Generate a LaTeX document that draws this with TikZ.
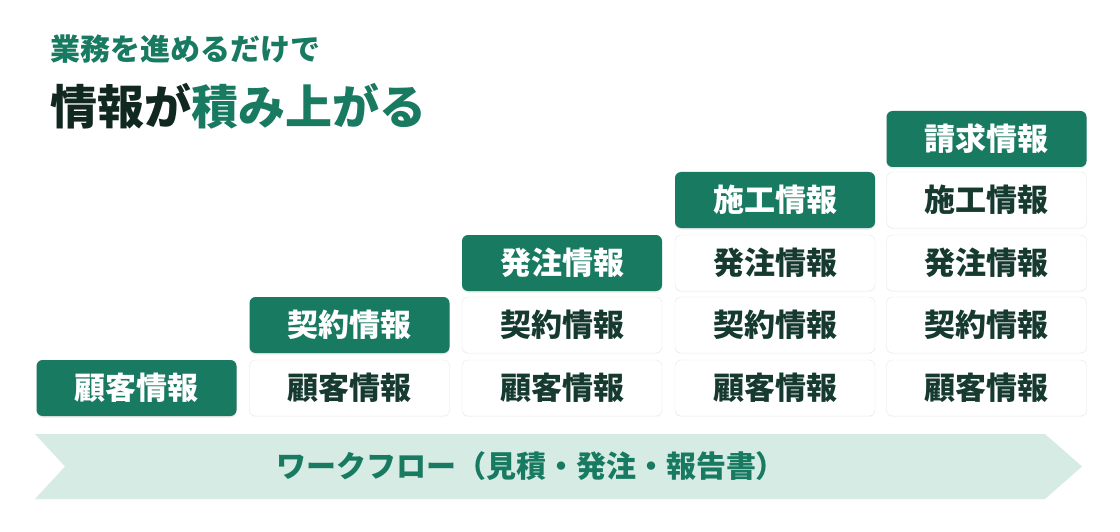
\documentclass[tikz,border=0pt]{standalone}
\usepackage{fontspec}
\setmainfont{Noto Sans CJK JP}
\definecolor{bizgreen}{RGB}{24, 122, 97}
\definecolor{titledark}{RGB}{17, 40, 32}
\definecolor{celltext}{RGB}{22, 58, 47}
\definecolor{cellline}{RGB}{226, 233, 230}
\definecolor{flowfill}{RGB}{214, 235, 227}
\usetikzlibrary{shadows}

\begin{document}
\begin{tikzpicture}[x=1pt, y=-1pt,
    newbox/.style={rounded corners=6pt, fill=bizgreen, text=white, minimum width=200pt, minimum height=56pt,
      font=\fontsize{31}{31}\selectfont\bfseries, drop shadow={opacity=0.15, shadow xshift=0pt, shadow yshift=-1.5pt}},
    oldbox/.style={rounded corners=6pt, fill=white, draw=cellline, text=celltext, minimum width=200pt, minimum height=56pt,
      font=\fontsize{31}{31}\selectfont\bfseries, drop shadow={opacity=0.05, shadow xshift=0pt, shadow yshift=-1pt}}]
  \useasboundingbox[fill=white] (0, 0) rectangle (1120, 532);

  % heading
  \node[anchor=west, inner sep=0, text=bizgreen, font=\fontsize{30}{30}\selectfont\bfseries] (lead) at (50, 49) {業務を進めるだけで};
  \node[anchor=west, inner sep=0, text=titledark, font=\fontsize{47}{47}\selectfont\bfseries] (title) at (50, 106)
    {情報が\textcolor{bizgreen}{積み上がる}};

  % stacks
  \node[newbox] (cust1) at (136.5, 388) {顧客情報};

  \node[oldbox] (cust2) at (349.5, 388) {顧客情報};
  \node[newbox] (cont2) at (349.5, 325) {契約情報};

  \node[oldbox] (cust3) at (562, 388) {顧客情報};
  \node[oldbox] (cont3) at (562, 325) {契約情報};
  \node[newbox] (order3) at (562, 263) {発注情報};

  \node[oldbox] (cust4) at (775, 388) {顧客情報};
  \node[oldbox] (cont4) at (775, 325) {契約情報};
  \node[oldbox] (order4) at (775, 263) {発注情報};
  \node[newbox] (work4) at (775, 200) {施工情報};

  \node[oldbox] (cust5) at (986.5, 388) {顧客情報};
  \node[oldbox] (cont5) at (986.5, 325) {契約情報};
  \node[oldbox] (order5) at (986.5, 263) {発注情報};
  \node[oldbox] (work5) at (986.5, 200) {施工情報};
  \node[newbox] (bill5) at (986.5, 139) {請求情報};

  % workflow band
  \fill[flowfill] (35, 434) -- (1045, 434) -- (1082, 466.5) -- (1045, 499) -- (35, 499) -- (65, 466.5) -- cycle;
  \node[text=bizgreen, font=\fontsize{30}{30}\selectfont\bfseries] (flow) at (531, 466.5)
    {ワークフロー（見積・発注・報告書）};
\end{tikzpicture}
\end{document}
